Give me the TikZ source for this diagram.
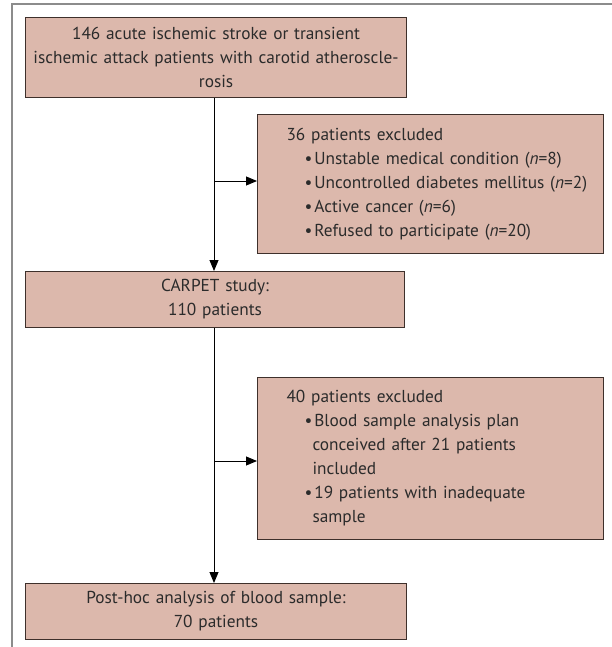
\documentclass[tikz,border=0pt]{standalone}
\usepackage{fontspec}
\setmainfont{PT Sans}
\usetikzlibrary{arrows.meta}
\definecolor{boxfill}{HTML}{DCB8AC}
\definecolor{boxline}{HTML}{3E302B}
\definecolor{framegray}{HTML}{8C8C8C}
\definecolor{txt}{HTML}{2B2B2B}
\tikzset{
  flowbox/.style={draw=boxline, fill=boxfill, line width=1.1pt, inner sep=0pt,
    text=txt, font=\fontsize{17.3}{24}\selectfont},
  listbox/.style={flowbox, minimum width=346pt, text width=330pt, align=left},
  conn/.style={draw=black, line width=0.9pt},
  arr/.style={conn, -{Triangle[length=11pt,width=9pt]}},
}
% text area starts at box left + 8pt
\newcommand{\head}{\hspace*{21pt}}
\newcommand{\bul}{\hspace*{39pt}\textbullet\hspace{2pt}}
\newcommand{\cont}{\hspace*{47pt}}
\begin{document}
\begin{tikzpicture}[x=1pt,y=-1pt]
\useasboundingbox (0,0) rectangle (612,647);
\draw[framegray, line width=1.4pt] (12,647) -- (12,4) -- (612,4);
\node[flowbox, anchor=north west, minimum width=381pt, minimum height=80pt,
  text width=375pt, align=center] (b1) at (25,17)
  {146 acute ischemic stroke or transient\\ischemic attack patients with carotid atheroscle-\\rosis};
\node[listbox, anchor=north west, minimum height=139pt] (b2) at (257,114)
  {\head 36 patients excluded\\
   \bul Unstable medical condition (\textit{n}=8)\\
   \bul Uncontrolled diabetes mellitus (\textit{n}=2)\\
   \bul Active cancer (\textit{n}=6)\\
   \bul Refused to participate (\textit{n}=20)};
\node[flowbox, anchor=north west, minimum width=379pt, minimum height=56pt,
  text width=370pt, align=center] (b3) at (25,271)
  {CARPET study:\\110 patients};
\node[listbox, anchor=north west, minimum height=162pt] (b4) at (257,377)
  {\head 40 patients excluded\\
   \bul Blood sample analysis plan\\
   \cont conceived after 21 patients\\
   \cont included\\
   \bul 19 patients with inadequate\\
   \cont sample};
\node[flowbox, anchor=north west, minimum width=381pt, minimum height=56pt,
  text width=370pt, align=center] (b5) at (25,583)
  {Post-hoc analysis of blood sample:\\70 patients};
\coordinate (j1) at (214,181);
\coordinate (j2) at (214,461);
\draw[arr] (b1.south -| j1) -- (b3.north -| j1);
\draw[arr] (j1) -- (j1 -| b2.west);
\draw[arr] (b3.south -| j2) -- (b5.north -| j2);
\draw[arr] (j2) -- (j2 -| b4.west);
\end{tikzpicture}
\end{document}
